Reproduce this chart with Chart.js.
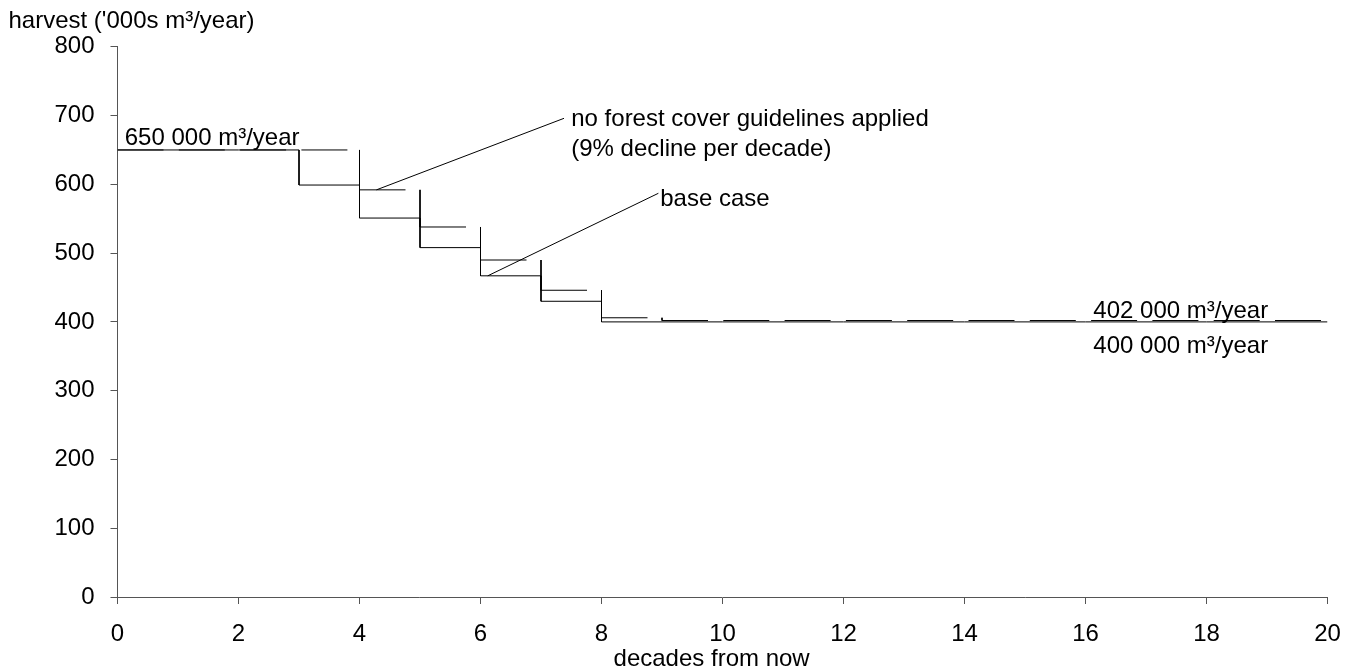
<!DOCTYPE html>
<html>
<head>
<meta charset="utf-8">
<title>Harvest projection</title>
<script src="https://cdn.jsdelivr.net/npm/chart.js@4.4.0/dist/chart.umd.min.js"></script>
<style>
  html, body { margin: 0; padding: 0; background: #fff; }
  #wrap { width: 1354px; height: 671px; position: relative; }
</style>
</head>
<body>
<div id="wrap"><canvas id="chart"></canvas></div>
<script>
// Decade index (start of each decade, 0..20)
const decades = [0, 1, 2, 3, 4, 5, 6, 7, 8, 9, 10, 11, 12, 13, 14, 15, 16, 17, 18, 19, 20];

// Harvest level held over each decade, '000s m³/year
const baseCase = [650, 650, 650, 599, 551, 508, 467, 430, 400, 400, 400, 400, 400, 400, 400, 400, 400, 400, 400, 400, 400];
const noCoverGuidelines = [650, 650, 650, 650, 592, 538, 490, 446, 406, 402, 402, 402, 402, 402, 402, 402, 402, 402, 402, 402, 402];

// Axis ticks
const xTicks = [0, 2, 4, 6, 8, 10, 12, 14, 16, 18, 20];
const yTicks = [0, 100, 200, 300, 400, 500, 600, 700, 800];

// Text labels
const yAxisLabel = "harvest ('000s m³/year)";
const xAxisLabel = 'decades from now';
const startLabel = '650 000 m³/year';
const noCoverLabel = ['no forest cover guidelines applied', '(9% decline per decade)'];
const baseLabel = 'base case';
const noCoverEndLabel = '402 000 m³/year';
const baseEndLabel = '400 000 m³/year';

const FONT = '"Liberation Sans", Arial, Helvetica, sans-serif';
const FONT_SIZE = 24;

// Step outline: each value holds from its decade to the next one
function stepPoints(values) {
  const pts = [];
  for (let i = 0; i < decades.length - 1; i++) {
    pts.push({ x: decades[i], y: values[i] });
    pts.push({ x: decades[i + 1], y: values[i] });
  }
  return pts;
}

// Step outline with runs of equal value merged into one horizontal stretch
function runPoints(values) {
  const pts = [];
  const last = decades.length - 1;
  let i = 0;
  while (i < last) {
    let j = i;
    while (j < last && values[j] === values[i]) j++;
    pts.push({ x: decades[i], y: values[i] });
    pts.push({ x: decades[j], y: values[i] });
    i = j;
  }
  return pts;
}

// Leader lines and free text drawn in data coordinates
const annotations = {
  leaders: [
    { from: [7.38, 696], to: [4.28, 592] },
    { from: [8.94, 587], to: [6.12, 467] }
  ],
  texts: [
    { x: 0.12, y: 667, lines: [startLabel] },
    { x: 7.5, y: 694, lines: noCoverLabel },
    { x: 8.97, y: 578, lines: [baseLabel] },
    { x: 16.13, y: 416, lines: [noCoverEndLabel] },
    { x: 16.13, y: 364, lines: [baseEndLabel] }
  ],
  lineGap: 30,
  // x-axis caption: centre in data units, offset below the plot in px
  xCaption: { x: 9.82, offset: 62 }
};

const annotationPlugin = {
  id: 'harvestAnnotations',
  afterDatasetsDraw(chart) {
    const { ctx, chartArea } = chart;
    const xs = chart.scales.x, ys = chart.scales.y;
    ctx.save();
    ctx.strokeStyle = '#000';
    ctx.lineWidth = 1;
    annotations.leaders.forEach(l => {
      ctx.beginPath();
      ctx.moveTo(xs.getPixelForValue(l.from[0]), ys.getPixelForValue(l.from[1]));
      ctx.lineTo(xs.getPixelForValue(l.to[0]), ys.getPixelForValue(l.to[1]));
      ctx.stroke();
    });
    ctx.fillStyle = '#000';
    ctx.font = FONT_SIZE + 'px ' + FONT;
    ctx.textAlign = 'left';
    ctx.textBaseline = 'middle';
    annotations.texts.forEach(t => {
      const px = xs.getPixelForValue(t.x);
      const py = ys.getPixelForValue(t.y);
      t.lines.forEach((line, k) => ctx.fillText(line, px, py + k * annotations.lineGap));
    });
    ctx.textAlign = 'center';
    ctx.fillText(xAxisLabel, xs.getPixelForValue(annotations.xCaption.x), chartArea.bottom + annotations.xCaption.offset);
    ctx.restore();
  }
};

const axisColor = '#555';

new Chart(document.getElementById('chart'), {
  type: 'line',
  data: {
    datasets: [
      {
        label: 'base case',
        data: stepPoints(baseCase),
        borderColor: '#000',
        borderWidth: 1,
        pointRadius: 0,
        fill: false,
        tension: 0
      },
      {
        label: 'no forest cover guidelines applied',
        data: runPoints(noCoverGuidelines),
        borderColor: '#000',
        borderWidth: 1,
        pointRadius: 0,
        fill: false,
        tension: 0,
        segment: {
          borderDash: c => (c.p0.parsed.y === c.p1.parsed.y ? [46, 15.3] : [])
        }
      }
    ]
  },
  options: {
    responsive: true,
    maintainAspectRatio: false,
    animation: false,
    events: [],
    layout: { padding: { left: 8.5, right: 26.5, top: 0, bottom: 0 } },
    plugins: {
      legend: { display: false },
      tooltip: { enabled: false },
      title: {
        display: true,
        text: yAxisLabel,
        align: 'start',
        color: '#000',
        font: { family: FONT, size: FONT_SIZE, weight: 'normal' },
        padding: { top: 7, bottom: 11 }
      }
    },
    scales: {
      x: {
        type: 'linear',
        min: 0,
        max: 20,
        afterBuildTicks: s => { s.ticks = xTicks.map(v => ({ value: v })); },
        afterFit: s => {
          s.height = 74;
          // end labels fit inside the layout padding
          s.paddingLeft = 0;
          s.paddingRight = 0;
        },
        ticks: {
          color: '#000',
          font: { family: FONT, size: FONT_SIZE },
          padding: 16,
          maxRotation: 0,
          autoSkip: false
        },
        grid: { drawOnChartArea: false, drawTicks: true, tickLength: 7, color: axisColor },
        border: { color: axisColor, width: 1 }
      },
      y: {
        type: 'linear',
        min: 0,
        max: 800,
        afterBuildTicks: s => { s.ticks = yTicks.map(v => ({ value: v })); },
        afterFit: s => { s.width = 109; },
        ticks: {
          color: '#000',
          font: { family: FONT, size: FONT_SIZE },
          padding: 16,
          autoSkip: false
        },
        grid: { drawOnChartArea: false, drawTicks: true, tickLength: 7, color: axisColor },
        border: { color: axisColor, width: 1 }
      }
    }
  },
  plugins: [annotationPlugin]
});
</script>
</body>
</html>
